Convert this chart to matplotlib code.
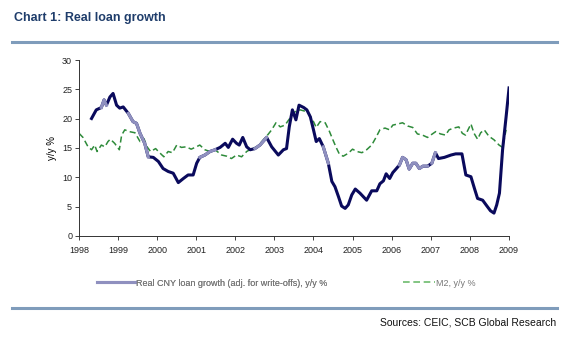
import numpy as np
import matplotlib.pyplot as plt
from matplotlib.lines import Line2D

plt.rcParams['font.family'] = ['Liberation Sans', 'DejaVu Sans']

# real CNY loan growth (adj. for write-offs), y/y %
loan_t = [1998.30, 1998.44, 1998.57, 1998.64, 1998.70, 1998.79, 1998.87, 1998.96,
          1999.04, 1999.13, 1999.26, 1999.38, 1999.47, 1999.56, 1999.68, 1999.77,
          1999.90, 2000.03, 2000.15, 2000.28, 2000.41, 2000.54, 2000.67, 2000.79,
          2000.92, 2001.01, 2001.09, 2001.22, 2001.35, 2001.48, 2001.61, 2001.74,
          2001.82, 2001.93, 2002.03, 2002.10, 2002.19, 2002.29, 2002.38, 2002.50,
          2002.63, 2002.80, 2002.93, 2003.10, 2003.23, 2003.31, 2003.38, 2003.46,
          2003.55, 2003.63, 2003.75, 2003.83, 2003.92, 2004.00, 2004.07, 2004.15,
          2004.25, 2004.38, 2004.47, 2004.55, 2004.64, 2004.72, 2004.81, 2004.89,
          2004.98, 2005.07, 2005.19, 2005.36, 2005.49, 2005.62, 2005.70, 2005.79,
          2005.86, 2005.95, 2006.03, 2006.11, 2006.20, 2006.28, 2006.37, 2006.45,
          2006.54, 2006.62, 2006.71, 2006.80, 2006.92, 2007.03, 2007.12, 2007.20,
          2007.35, 2007.52, 2007.64, 2007.80, 2007.90, 2008.03, 2008.12, 2008.20,
          2008.33, 2008.44, 2008.53, 2008.62, 2008.69, 2008.76, 2008.84, 2008.93,
          2009.01]
loan_v = [19.8, 21.5, 21.9, 23.2, 22.3, 23.7, 24.3, 22.3,
          21.8, 22.0, 20.9, 19.5, 19.2, 17.5, 15.8, 13.5,
          13.4, 12.7, 11.5, 11.0, 10.7, 9.1, 9.8, 10.4,
          10.4, 12.4, 13.4, 13.8, 14.4, 14.7, 15.1, 15.8,
          15.1, 16.5, 15.8, 15.5, 16.8, 15.2, 14.7, 14.9,
          15.5, 16.8, 15.2, 13.8, 14.7, 14.9, 18.6, 21.5,
          19.8, 22.3, 21.9, 21.5, 20.3, 18.1, 16.1, 16.6,
          15.2, 12.4, 9.3, 8.4, 6.7, 5.1, 4.7, 5.3,
          7.0, 8.0, 7.3, 6.1, 7.7, 7.7, 8.9, 9.4,
          10.6, 9.8, 10.8, 11.4, 12.1, 13.4, 13.0, 11.4,
          12.4, 12.4, 11.5, 11.9, 11.9, 12.4, 14.2, 13.2,
          13.4, 13.8, 14.0, 14.0, 10.4, 10.1, 8.1, 6.4,
          6.1, 5.1, 4.3, 3.9, 5.3, 7.3, 14.7, 20.3,
          25.5]

# M2, y/y %
m2_t = [1998.00, 1998.10, 1998.23, 1998.32, 1998.40, 1998.46, 1998.57, 1998.66,
        1998.74, 1998.80, 1998.91, 1999.03, 1999.09, 1999.17, 1999.28, 1999.43,
        1999.56, 1999.66, 1999.74, 1999.83, 1999.96, 2000.03, 2000.17, 2000.28,
        2000.39, 2000.50, 2000.62, 2000.74, 2000.87, 2001.00, 2001.09, 2001.22,
        2001.35, 2001.48, 2001.65, 2001.78, 2001.90, 2002.03, 2002.16, 2002.29,
        2002.42, 2002.56, 2002.68, 2002.80, 2002.93, 2003.04, 2003.15, 2003.27,
        2003.40, 2003.53, 2003.66, 2003.77, 2003.87, 2004.00, 2004.07, 2004.17,
        2004.30, 2004.41, 2004.49, 2004.58, 2004.66, 2004.76, 2004.89, 2005.00,
        2005.11, 2005.24, 2005.36, 2005.49, 2005.60, 2005.70, 2005.83, 2005.95,
        2006.03, 2006.16, 2006.28, 2006.41, 2006.54, 2006.66, 2006.79, 2006.92,
        2007.00, 2007.13, 2007.25, 2007.38, 2007.47, 2007.59, 2007.72, 2007.81,
        2007.89, 2008.03, 2008.11, 2008.20, 2008.28, 2008.37, 2008.49, 2008.62,
        2008.75, 2008.84, 2008.93]
m2_v = [17.5, 16.8, 15.2, 14.7, 15.5, 14.4, 15.5, 15.2,
        16.1, 16.5, 15.8, 14.7, 17.2, 18.1, 17.8, 17.6,
        16.1, 16.6, 15.2, 14.4, 14.9, 14.4, 13.5, 14.4,
        14.2, 15.5, 15.1, 15.2, 14.8, 15.2, 15.5, 14.7,
        14.4, 14.7, 13.8, 13.6, 13.2, 13.8, 13.5, 14.4,
        14.9, 15.2, 16.1, 17.0, 18.1, 19.3, 18.6, 18.9,
        20.1, 21.2, 21.5, 21.3, 20.9, 19.5, 18.5, 19.5,
        19.3, 17.8, 16.5, 15.1, 14.0, 13.6, 14.1, 14.8,
        14.4, 14.2, 14.7, 15.5, 16.8, 18.1, 18.4, 18.1,
        18.9, 19.1, 19.3, 18.75, 18.5, 17.4, 17.2, 16.8,
        17.2, 17.8, 17.4, 17.2, 18.1, 18.4, 18.6, 17.5,
        17.2, 19.1, 17.5, 16.5, 17.6, 18.1, 17.0, 16.4,
        15.5, 15.1, 18.1]

years = list(range(1998, 2010))
yticks = [0, 5, 10, 15, 20, 25, 30]

# parts of the loan line that show up lighter in the original
light_spans = [(1998.55, 1998.74), (1999.17, 1999.80), (2001.05, 2001.60),
               (2002.50, 2002.90), (2004.20, 2004.40), (2006.20, 2006.97),
               (2007.03, 2007.14)]

navy = '#0a0a5c'
lav = '#8f90bf'
green = '#2e8b3a'

fig = plt.figure(figsize=(5.73, 3.41), dpi=100)
ax = fig.add_axes([0.138, 0.308, 0.750, 0.516])

lt = np.array(loan_t)
lv = np.array(loan_v)
ax.plot(m2_t, m2_v, color=green, lw=1.1, dashes=(4, 2.2), zorder=2)
ax.plot(lt, lv, color=navy, lw=2.2, solid_capstyle='butt', zorder=3)
for a, b in light_spans:
    m = (lt >= a) & (lt <= b)
    ax.plot(lt[m], lv[m], color=lav, lw=2.2, zorder=4)

ax.set_xlim(1998, 2009)
ax.set_ylim(0, 30)
ax.set_xticks(years)
ax.set_xticklabels([str(y) for y in years])
ax.set_yticks(yticks)
ax.tick_params(axis='both', direction='out', length=3, width=0.6,
               labelsize=6.5, colors='#222222', pad=2)
ax.tick_params(axis='x', pad=4)
for s in ['top', 'right']:
    ax.spines[s].set_visible(False)
for s in ['left', 'bottom']:
    ax.spines[s].set_linewidth(0.7)
    ax.spines[s].set_color('#333333')
ax.set_ylabel('y/y %', fontsize=7, labelpad=4)

# legend
h1 = Line2D([], [], color=lav, lw=2.2)
h2 = Line2D([], [], color='#6dbb6d', lw=1.2, dashes=(4, 2.2))
leg1 = fig.legend([h1], ['Real CNY loan growth (adj. for write-offs), y/y %'],
                  loc='center left', bbox_to_anchor=(0.155, 0.17), frameon=False,
                  fontsize=6.5, handlelength=4.2, handletextpad=0.1, labelcolor='#777777')
fig.add_artist(leg1)
fig.legend([h2], ['M2, y/y %'], loc='center left', bbox_to_anchor=(0.69, 0.17),
           frameon=False, fontsize=6.5, handlelength=3.5, handletextpad=0.1,
           labelcolor='#777777')

# header and footer
fig.text(0.024, 0.948, 'Chart 1: Real loan growth', fontsize=9, fontweight='bold',
         color='#1f3d6b', ha='left', va='center')
fig.add_artist(Line2D([0.021, 0.972], [0.878, 0.878], color='#7f9cbb', lw=2.2))
fig.add_artist(Line2D([0.021, 0.972], [0.097, 0.097], color='#7f9cbb', lw=2.2))
fig.text(0.970, 0.055, 'Sources: CEIC, SCB Global Research', fontsize=7.5,
         color='#111111', ha='right', va='center')

fig.savefig('out.png', dpi=100)
